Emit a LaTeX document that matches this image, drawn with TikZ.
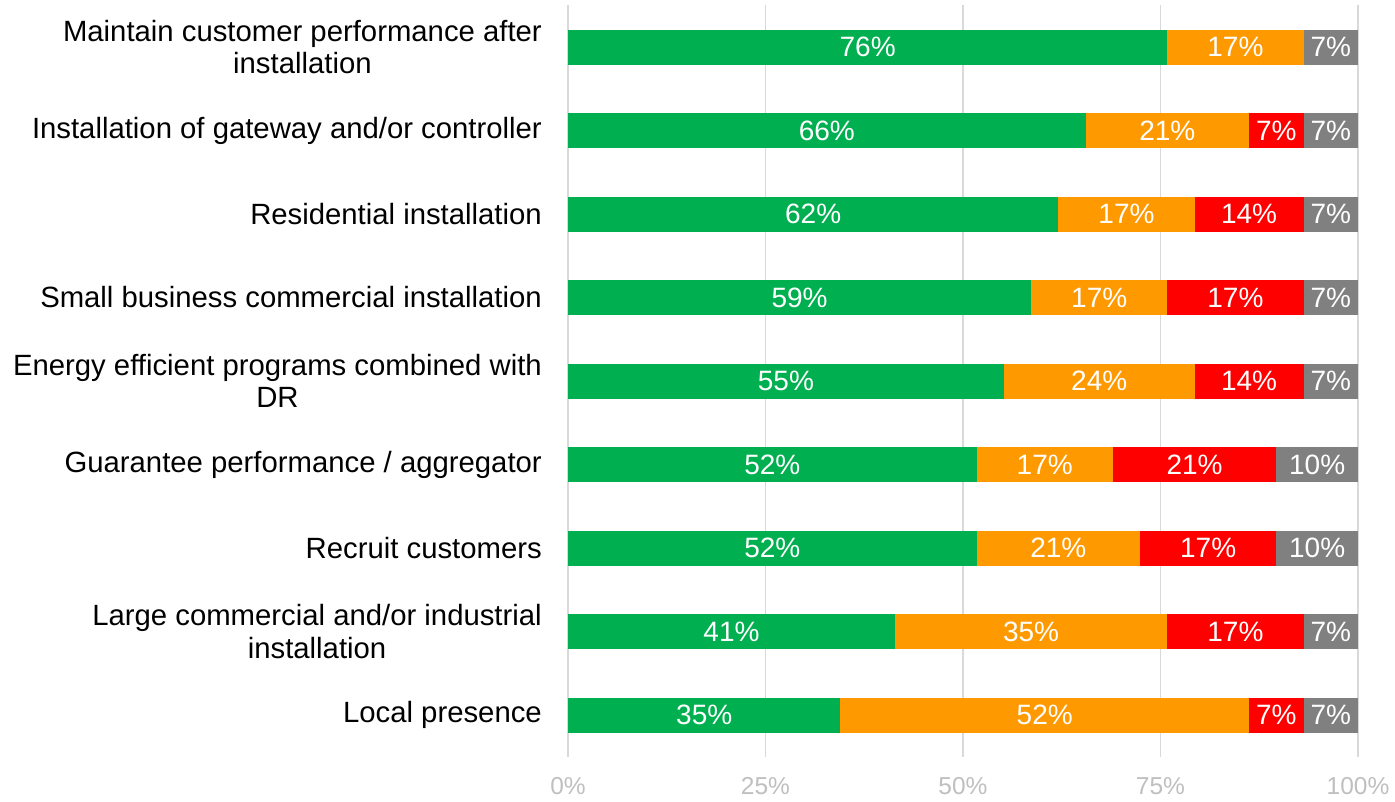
\documentclass[tikz,border=0pt]{standalone}
\usepackage{fontspec}
\setmainfont{Liberation Sans}
\definecolor{cgreen}{HTML}{00B050}
\definecolor{corange}{HTML}{FF9900}
\definecolor{cred}{HTML}{FF0000}
\definecolor{cgray}{HTML}{808080}
\definecolor{cgrid}{HTML}{D9D9D9}
\definecolor{ctick}{HTML}{BFBFBF}
\tikzset{
  catlabel/.style={anchor=east,align=center,font=\fontsize{29.3}{32.5}\selectfont,inner sep=0pt},
  vallabel/.style={text=white,font=\fontsize{28}{30}\selectfont,inner sep=0pt},
  ticklabel/.style={text=ctick,font=\fontsize{24.5}{28}\selectfont,inner sep=0pt},
  gridline/.style={draw=cgrid,line width=1.5pt},
  seg/.style={draw=none}
}
\begin{document}
\begin{tikzpicture}[x=1pt,y=-1pt]
\useasboundingbox (0,0) rectangle (1395,801);
% grid
\foreach \t in {0,25,50,75,100}{
  \draw[gridline] ({568+7.9*\t},5) -- ({568+7.9*\t},757);
  \node[ticklabel] (tick\t) at ({568+7.9*\t},786) {\t\%};
}
% rows
\foreach \i/\lab/\va/\vb/\vc/\vd/\pa/\pb/\pc/\pd in {
0/{Maintain customer performance after\\installation}/22/5/0/2/76/17/0/7,
1/{Installation of gateway and/or controller}/19/6/2/2/66/21/7/7,
2/{Residential installation}/18/5/4/2/62/17/14/7,
3/{Small business commercial installation}/17/5/5/2/59/17/17/7,
4/{Energy efficient programs combined with\\DR}/16/7/4/2/55/24/14/7,
5/{Guarantee performance / aggregator}/15/5/6/3/52/17/21/10,
6/{Recruit customers}/15/6/5/3/52/21/17/10,
7/{Large commercial and/or industrial\\installation}/12/10/5/2/41/35/17/7,
8/{Local presence}/10/15/2/2/35/52/7/7}{
  \pgfmathsetmacro\yc{47+83.5*\i}
  \pgfmathsetmacro\xa{568}
  \pgfmathsetmacro\xb{568+27.241379*\va}
  \pgfmathsetmacro\xc{\xb+27.241379*\vb}
  \pgfmathsetmacro\xd{\xc+27.241379*\vc}
  \pgfmathsetmacro\xe{\xd+27.241379*\vd}
  \node[catlabel] (cat\i) at (542,\yc) {\lab};
  \fill[cgreen] (\xa,\yc-17.5) rectangle (\xb,\yc+17.5);
  \node[vallabel] (g\i) at ({(\xa+\xb)/2},\yc) {\pa\%};
  \fill[corange] (\xb,\yc-17.5) rectangle (\xc,\yc+17.5);
  \node[vallabel] (o\i) at ({(\xb+\xc)/2},\yc) {\pb\%};
  \ifnum\vc>0
    \fill[cred] (\xc,\yc-17.5) rectangle (\xd,\yc+17.5);
    \node[vallabel] (r\i) at ({(\xc+\xd)/2},\yc) {\pc\%};
  \fi
  \fill[cgray] (\xd,\yc-17.5) rectangle (\xe,\yc+17.5);
  \node[vallabel] (k\i) at ({(\xd+\xe)/2},\yc) {\pd\%};
}
\end{tikzpicture}
\end{document}
